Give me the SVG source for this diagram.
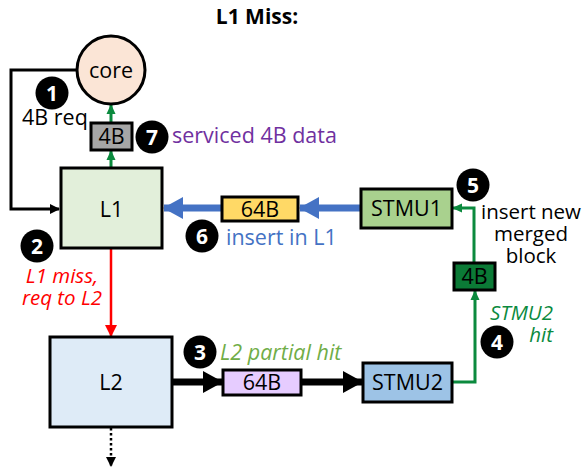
<svg xmlns="http://www.w3.org/2000/svg" width="586" height="470" viewBox="0 0 586 470">
<style>
.t{font-family:"Open Sans","Noto Sans",sans-serif;font-size:21.5px;fill:#000}
.m{font-size:20.5px}
.box{stroke:#000;stroke-width:3}
.bn{font-family:"Open Sans","Noto Sans",sans-serif;font-size:21px;font-weight:bold;fill:#fff;text-anchor:middle}
.it{font-style:italic}
</style>
<defs>
<marker id="ab" markerWidth="10" markerHeight="10" refX="9" refY="5" orient="auto" markerUnits="userSpaceOnUse"><path d="M0,0 L10,5 L0,10 z" fill="#000"/></marker>
<marker id="ag" markerWidth="10" markerHeight="10" refX="9" refY="5" orient="auto" markerUnits="userSpaceOnUse"><path d="M0,0.5 L10,5 L0,9.5 z" fill="#0b8a3e"/></marker>
<marker id="ar" markerWidth="12" markerHeight="12" refX="11" refY="6" orient="auto" markerUnits="userSpaceOnUse"><path d="M0,0 L12,6 L0,12 z" fill="#ff0000"/></marker>
<marker id="abl" markerWidth="20" markerHeight="22" refX="19" refY="11" orient="auto" markerUnits="userSpaceOnUse"><path d="M0,0 L20,11 L0,22 z" fill="#4472c4"/></marker>
<marker id="abk" markerWidth="20" markerHeight="22" refX="19" refY="11" orient="auto" markerUnits="userSpaceOnUse"><path d="M0,0 L20,11 L0,22 z" fill="#000"/></marker>
</defs>
<text x="257" y="24" class="t" style="font-weight:bold;font-size:21px" text-anchor="middle">L1 Miss:</text>

<g id="connectors" fill="none">
<path d="M78,70 H11 V209 H59" stroke="#000" stroke-width="3" marker-end="url(#ab)"/>
<path d="M111,168 V151" stroke="#0b8a3e" stroke-width="3" marker-end="url(#ag)"/>
<path d="M111,122 V105" stroke="#0b8a3e" stroke-width="3" marker-end="url(#ag)"/>
<path d="M111,249 V336" stroke="#ff0000" stroke-width="2.5" marker-end="url(#ar)"/>
<path d="M360,208 H300" stroke="#4472c4" stroke-width="7" marker-end="url(#abl)"/>
<path d="M221,208 H164" stroke="#4472c4" stroke-width="7" marker-end="url(#abl)"/>
<path d="M474,262 V208 H453" stroke="#0b8a3e" stroke-width="3" marker-end="url(#ag)"/>
<path d="M453,382 H475 V291" stroke="#0b8a3e" stroke-width="3" marker-end="url(#ag)"/>
<path d="M173,382 H222" stroke="#000" stroke-width="7" marker-end="url(#abk)"/>
<path d="M302,382 H362" stroke="#000" stroke-width="7" marker-end="url(#abk)"/>
<path d="M111,428 V466" stroke="#000" stroke-width="2.5" stroke-dasharray="2.5,2.5" marker-end="url(#ab)"/>
</g>

<g id="core"><circle cx="111" cy="70" r="34" fill="#fbe5d6" stroke="#000" stroke-width="3"/><text x="111" y="77.5" class="t" text-anchor="middle">core</text></g>
<g id="box4b-gray"><rect x="91" y="123" width="41" height="27" fill="#a6a6a6" class="box"/><text x="111.5" y="144" class="t" text-anchor="middle">4B</text></g>
<g id="L1"><rect x="61" y="168" width="101" height="80" fill="#e2efda" class="box"/><text x="111.5" y="217" class="t" text-anchor="middle">L1</text></g>
<g id="box64b-yellow"><rect x="222" y="197" width="76" height="24" fill="#ffd966" class="box"/><text x="260" y="216.5" class="t" text-anchor="middle">64B</text></g>
<g id="STMU1"><rect x="361" y="189" width="91" height="39" fill="#a9d18e" class="box"/><text x="406.5" y="216" class="t" text-anchor="middle">STMU1</text></g>
<g id="box4b-green"><rect x="454" y="263" width="41" height="27" fill="#0b7a36" class="box"/><text x="474.5" y="284" class="t" text-anchor="middle">4B</text></g>
<g id="L2"><rect x="50" y="337" width="122" height="90" fill="#deebf7" class="box"/><text x="111" y="390" class="t" text-anchor="middle">L2</text></g>
<g id="box64b-purple"><rect x="223" y="370" width="78" height="25" fill="#e6ccff" class="box"/><text x="262" y="390" class="t" text-anchor="middle">64B</text></g>
<g id="STMU2"><rect x="363" y="363" width="89" height="39" fill="#9dc3e6" class="box"/><text x="407.5" y="390" class="t" text-anchor="middle">STMU2</text></g>

<g id="badge1"><circle cx="52" cy="93" r="16.5" fill="#000"/><text x="52" y="100.5" class="bn">1</text></g>
<g id="badge2"><circle cx="37" cy="246" r="16.5" fill="#000"/><text x="37" y="253.5" class="bn">2</text></g>
<g id="badge3"><circle cx="200" cy="352" r="16.5" fill="#000"/><text x="200" y="359.5" class="bn">3</text></g>
<g id="badge4"><circle cx="497" cy="342" r="16.5" fill="#000"/><text x="497" y="349.5" class="bn">4</text></g>
<g id="badge5"><circle cx="473" cy="185" r="16.5" fill="#000"/><text x="473" y="192.5" class="bn">5</text></g>
<g id="badge6"><circle cx="202" cy="236" r="16.5" fill="#000"/><text x="202" y="243.5" class="bn">6</text></g>
<g id="badge7"><circle cx="152" cy="137" r="16.5" fill="#000"/><text x="152" y="144.5" class="bn">7</text></g>

<g id="labels">
<text x="22" y="125" class="t">4B req</text>
<text x="172" y="143" class="t" style="fill:#7030a0">serviced 4B data</text>
<text x="226" y="245" class="t" style="fill:#4472c4">insert in L1</text>
<text class="t m" text-anchor="middle"><tspan x="531" y="219">insert new</tspan><tspan x="531" y="241">merged</tspan><tspan x="531" y="263">block</tspan></text>
<text class="t m it" text-anchor="middle" style="fill:#ff0000"><tspan x="62" y="283">L1 miss,</tspan><tspan x="62" y="305">req to L2</tspan></text>
<text x="220" y="360" class="t it" style="fill:#70ad47">L2 partial hit</text>
<text class="t m it" text-anchor="end" style="fill:#0b8a3e"><tspan x="553" y="320">STMU2</tspan><tspan x="553" y="342">hit</tspan></text>
</g>
</svg>
